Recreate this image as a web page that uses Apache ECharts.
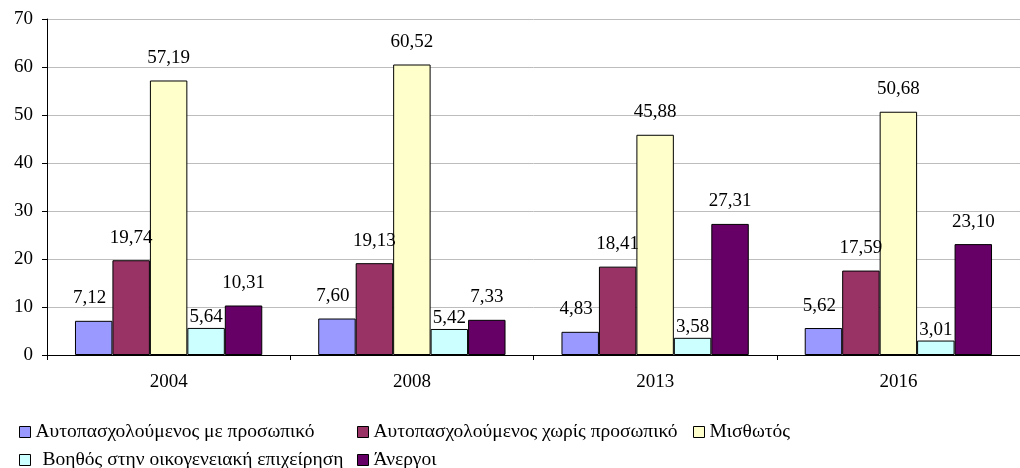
<!DOCTYPE html>
<html><head><meta charset="utf-8">
<script src="https://cdn.jsdelivr.net/npm/echarts@6/dist/echarts.min.js"></script>
<style>html,body{margin:0;padding:0;background:#fff}#c{width:1020px;height:468px}</style>
</head><body><div id="c"></div>
<script>
const categories = ['2004', '2008', '2013', '2016'];
const seriesNames = ['Αυτοπασχολούμενος με προσωπικό', 'Αυτοπασχολούμενος χωρίς προσωπικό', 'Μισθωτός', 'Βοηθός στην οικογενειακή επιχείρηση', 'Άνεργοι'];
const withStaff = [7.12, 7.60, 4.83, 5.62];
const withoutStaff = [19.74, 19.13, 18.41, 17.59];
const employees = [57.19, 60.52, 45.88, 50.68];
const familyHelpers = [5.64, 5.42, 3.58, 3.01];
const unemployed = [10.31, 7.33, 27.31, 23.10];
const yTicks = [0, 10, 20, 30, 40, 50, 60, 70];

const colors = ['#9999FF', '#993366', '#FFFFCC', '#CCFFFF', '#660066'];
const values = [withStaff, withoutStaff, employees, familyHelpers, unemployed];
const labelDist = [13, 13, 13, 1, 13];
const labelOff = [[-4, 0], [0, 0], [0, 0], [0, 0], [0, 0]];
const font = 'Liberation Serif';

const series = seriesNames.map((n, i) => ({
  name: n, type: 'bar', data: values[i], barGap: '0%', barCategoryGap: '23%',
  itemStyle: { color: colors[i], borderColor: '#000', borderWidth: 1 },
  label: { show: true, position: 'top', distance: labelDist[i], offset: labelOff[i],
    fontFamily: font, fontSize: 19, color: '#000',
    formatter: p => p.value.toFixed(2).replace('.', ',') }
}));

const legendPos = [[19, 422], [357, 422], [693, 422], [19, 450], [357, 450]];
const legends = seriesNames.map((n, i) => ({
  data: [n], left: legendPos[i][0], top: legendPos[i][1], icon: 'rect',
  itemWidth: 11, itemHeight: 11, itemGap: 0, padding: 0,
  itemStyle: { borderColor: '#000', borderWidth: 1 },
  textStyle: { fontFamily: font, fontSize: 19.5, color: '#000', padding: [0, 0, 0, i === 3 ? 7 : 0] },
  selectedMode: false
}));

const chart = echarts.init(document.getElementById('c'));
chart.setOption({
  animation: false,
  color: colors,
  legend: legends,
  grid: { left: 47, right: -10, top: 19, bottom: 113, containLabel: false },
  xAxis: {
    type: 'category', data: categories,
    axisLine: { lineStyle: { color: '#000', width: 1 } },
    axisTick: { show: true, length: 5, lineStyle: { color: '#000' } },
    axisLabel: { fontFamily: font, fontSize: 19, color: '#000', margin: 18 }
  },
  yAxis: {
    type: 'value', min: yTicks[0], max: yTicks[yTicks.length - 1], interval: 10,
    axisLine: { show: true, lineStyle: { color: '#000', width: 1 } },
    axisTick: { show: true, length: 5, lineStyle: { color: '#000' } },
    axisLabel: { fontFamily: font, fontSize: 19, color: '#000', margin: 14 },
    splitLine: { lineStyle: { color: '#BDBDBD', width: 1 } }
  },
  series: series
});
</script></body></html>
